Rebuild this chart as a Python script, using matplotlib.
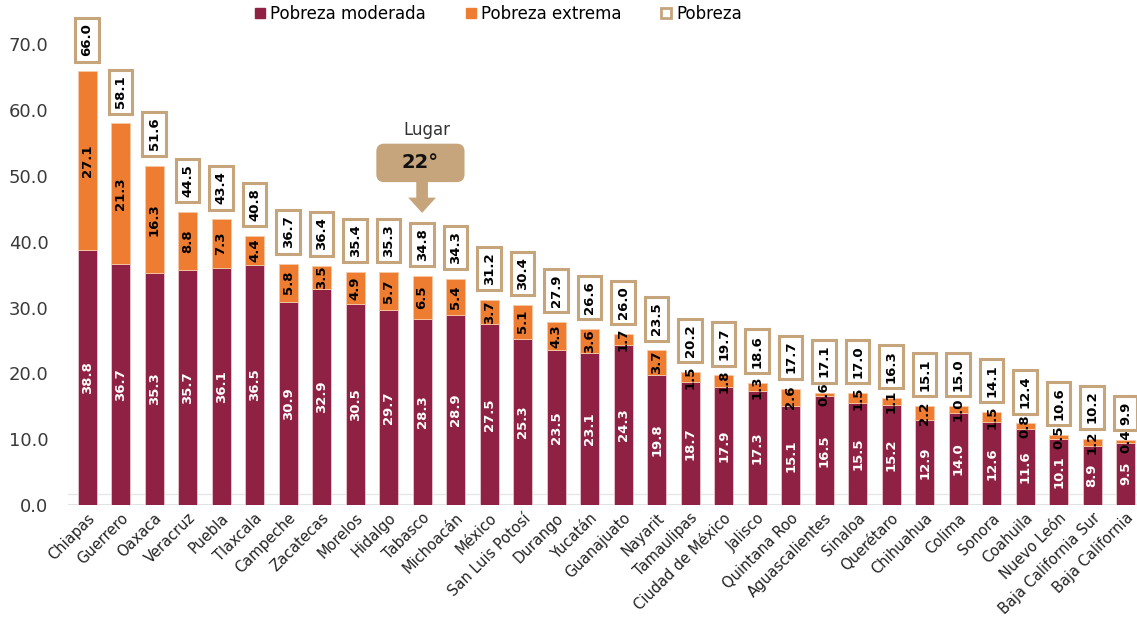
import matplotlib
matplotlib.use("Agg")
import matplotlib.pyplot as plt
from matplotlib.lines import Line2D
import numpy as np

states = ["Chiapas", "Guerrero", "Oaxaca", "Veracruz", "Puebla", "Tlaxcala", "Campeche",
          "Zacatecas", "Morelos", "Hidalgo", "Tabasco", "Michoacán", "México",
          "San Luis Potosí", "Durango", "Yucatán", "Guanajuato", "Nayarit", "Tamaulipas",
          "Ciudad de México", "Jalisco", "Quintana Roo", "Aguascalientes", "Sinaloa",
          "Querétaro", "Chihuahua", "Colima", "Sonora", "Coahuila", "Nuevo León",
          "Baja California Sur", "Baja California"]
moderada = [38.8, 36.7, 35.3, 35.7, 36.1, 36.5, 30.9, 32.9, 30.5, 29.7, 28.3, 28.9, 27.5,
            25.3, 23.5, 23.1, 24.3, 19.8, 18.7, 17.9, 17.3, 15.1, 16.5, 15.5, 15.2, 12.9,
            14.0, 12.6, 11.6, 10.1, 8.9, 9.5]
extrema = [27.1, 21.3, 16.3, 8.8, 7.3, 4.4, 5.8, 3.5, 4.9, 5.7, 6.5, 5.4, 3.7, 5.1, 4.3,
           3.6, 1.7, 3.7, 1.5, 1.8, 1.3, 2.6, 0.6, 1.5, 1.1, 2.2, 1.0, 1.5, 0.8, 0.5, 1.2, 0.4]
pobreza = [66.0, 58.1, 51.6, 44.5, 43.4, 40.8, 36.7, 36.4, 35.4, 35.3, 34.8, 34.3, 31.2,
           30.4, 27.9, 26.6, 26.0, 23.5, 20.2, 19.7, 18.6, 17.7, 17.1, 17.0, 16.3, 15.1,
           15.0, 14.1, 12.4, 10.6, 10.2, 9.9]
yticks = [0, 10, 20, 30, 40, 50, 60, 70]
highlight_state = "Tabasco"
highlight_label = "22°"

C_MOD = "#8E2144"
C_EXT = "#EE7D31"
C_TAN = "#C6A47C"

plt.rcParams['font.family'] = ['DejaVu Sans']

fig = plt.figure(figsize=(11.37, 6.2), dpi=100)
ax = fig.add_axes([68/1137, 1 - 505/620, 1 - 68/1137, 500/620])

x = np.arange(len(states))
w = 0.57
ax.bar(x, moderada, width=w, color=C_MOD, edgecolor="#E8C8D0", linewidth=0.6, zorder=3)
ax.bar(x, extrema, width=w, bottom=moderada, color=C_EXT, edgecolor="#F6C9A8",
       linewidth=0.6, zorder=3)

for i in range(len(states)):
    m, e, t = moderada[i], extrema[i], pobreza[i]
    ax.text(x[i], m / 2, f"{m:.1f}", rotation=90, ha="center", va="center",
            color="white", fontsize=9.5, fontweight="bold", zorder=4)
    ax.text(x[i], m + e / 2, f"{e:.1f}", rotation=90, ha="center", va="center",
            color="black", fontsize=9.5, fontweight="bold", zorder=4)
    ax.text(x[i], m + e + 2.3, f"{t:.1f}", rotation=90, ha="center", va="bottom",
            color="black", fontsize=9.5, fontweight="bold", zorder=5,
            bbox=dict(boxstyle="square,pad=0.4", facecolor="white", edgecolor=C_TAN,
                      linewidth=2.2))

ax.set_xlim(-0.57, 31.34)
ax.set_ylim(0, 76)
ax.set_yticks(yticks)
ax.set_yticklabels([f"{v:.1f}" for v in yticks], fontsize=13, color="#3A3A3A")
ax.set_xticks(x)
ax.set_xticklabels(states, rotation=45, ha="right", rotation_mode="anchor",
                   fontsize=10.5, color="#222222")
ax.tick_params(axis="y", length=0, pad=14)
ax.tick_params(axis="x", length=0, pad=4)
for s in ["top", "right", "left", "bottom"]:
    ax.spines[s].set_visible(False)
ax.axhline(0, color="#DDDDDD", linewidth=1.2, zorder=1)
ax.axhline(1.6, color="#E6E6E6", linewidth=1.0, zorder=1)

# Highlight annotation
hi = states.index(highlight_state)
ax.text(hi + 0.15, 57.0, "Lugar", ha="center", va="center", fontsize=12, color="#333333")
ax.annotate("", xy=(hi, pobreza[hi] + 9.6), xytext=(hi, 50.0),
            arrowprops=dict(arrowstyle="simple,head_width=1.0,head_length=0.55,tail_width=0.42",
                            mutation_scale=20, color=C_TAN, lw=0,
                            shrinkA=0, shrinkB=0), zorder=6)
ax.text(hi - 0.05, 52.0, "           ", ha="center", va="center", fontsize=14, zorder=6.5,
        bbox=dict(boxstyle="round,pad=0.5,rounding_size=0.4", facecolor=C_TAN,
                  edgecolor=C_TAN, linewidth=0))
ax.text(hi - 0.05, 52.0, highlight_label, ha="center", va="center", fontsize=14,
        fontweight="bold", color="#111111", zorder=7)

handles = [
    Line2D([], [], marker="s", linestyle="", markersize=7, markerfacecolor=C_MOD,
           markeredgecolor=C_MOD),
    Line2D([], [], marker="s", linestyle="", markersize=7, markerfacecolor=C_EXT,
           markeredgecolor=C_EXT),
    Line2D([], [], marker="s", linestyle="", markersize=7, markerfacecolor="white",
           markeredgecolor=C_TAN, markeredgewidth=2),
]
fig.legend(handles, ["Pobreza moderada", "Pobreza extrema", "Pobreza"], loc="center",
           bbox_to_anchor=(0.437, 0.977), ncol=3, frameon=False, fontsize=12,
           handletextpad=0.1, columnspacing=2.2, handlelength=1.0)

fig.savefig("out.png", dpi=100)
